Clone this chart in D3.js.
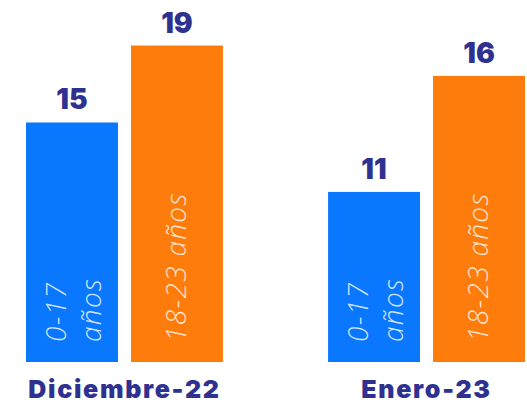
<!DOCTYPE html>
<html><head><meta charset="utf-8">
<script src="https://cdn.jsdelivr.net/npm/d3@7"></script>
<style>
html,body{margin:0;padding:0;background:#fff;}
svg{display:block;}
</style></head>
<body>
<script>
// Data
const categories = ["Diciembre-22", "Enero-23"];
const series = ["0-17 años", "18-23 años"];
const labelValues0 = [15, 11];          // 0-17 años (displayed)
const labelValues1 = [19, 16];          // 18-23 años (displayed)
const barValues0 = [14.97, 10.63];      // bar lengths as drawn
const barValues1 = [19.78, 17.88];
const seriesLines = [["0-17", "años"], ["18-23 años"]];

const W = 527, H = 403;
const colors = ["#0a78fe", "#fd7c0c"];
const navy = "#2f3190";

const rows = categories.map((c, i) => ({
  cat: c,
  bars: [
    {s: 0, v: barValues0[i], label: labelValues0[i]},
    {s: 1, v: barValues1[i], label: labelValues1[i]}
  ]
}));

const svg = d3.select("body").append("svg").attr("width", W).attr("height", H);

const x0 = d3.scaleBand().domain(categories).range([26, 525]).paddingInner(0.348).paddingOuter(0);
const x1 = d3.scaleBand().domain([0, 1]).range([0, x0.bandwidth()]).paddingInner(0.124).paddingOuter(0);
const y = d3.scaleLinear().domain([0, 20]).range([362, 42]);

const g = svg.selectAll("g.grp").data(rows).join("g")
  .attr("class", "grp")
  .attr("transform", d => `translate(${x0(d.cat)},0)`);

const bar = g.selectAll("g.bar").data(d => d.bars).join("g").attr("class", "bar");

bar.append("rect")
  .attr("x", d => x1(d.s))
  .attr("y", d => y(d.v))
  .attr("width", x1.bandwidth())
  .attr("height", d => y(0) - y(d.v))
  .attr("fill", d => colors[d.s]);

bar.append("text")
  .attr("x", d => x1(d.s) + x1.bandwidth() / 2)
  .attr("y", d => y(d.v) - 13)
  .attr("text-anchor", "middle")
  .attr("font-family", "Inter, sans-serif")
  .attr("font-weight", 900)
  .attr("font-size", 28)
  .attr("fill", navy)
  .text(d => d.label);

// inner rotated labels
bar.each(function(d) {
  const cx = x1(d.s) + x1.bandwidth() / 2;
  const lines = seriesLines[d.s];
  const offs = lines.length === 2 ? [-6, 29] : [9];
  const sy = y(0) - 20;
  lines.forEach((t, k) => {
    d3.select(this).append("text")
      .attr("transform", `translate(${cx + offs[k]},${sy}) rotate(-90)`)
      .attr("font-family", "'Open Sans', sans-serif")
      .attr("font-style", "italic")
      .attr("font-weight", 300)
      .attr("font-size", 28)
      .attr("letter-spacing", 1.3)
      .attr("fill", "#ffffff")
      .attr("fill-opacity", 0.82)
      .text(t);
  });
});

// category labels
g.append("text")
  .attr("x", x0.bandwidth() / 2)
  .attr("y", 398)
  .attr("text-anchor", "middle")
  .attr("font-family", "Inter, sans-serif")
  .attr("font-weight", 900)
  .attr("font-size", 25)
  .attr("letter-spacing", 1.7)
  .attr("fill", navy)
  .text(d => d.cat);
</script>
</body></html>
